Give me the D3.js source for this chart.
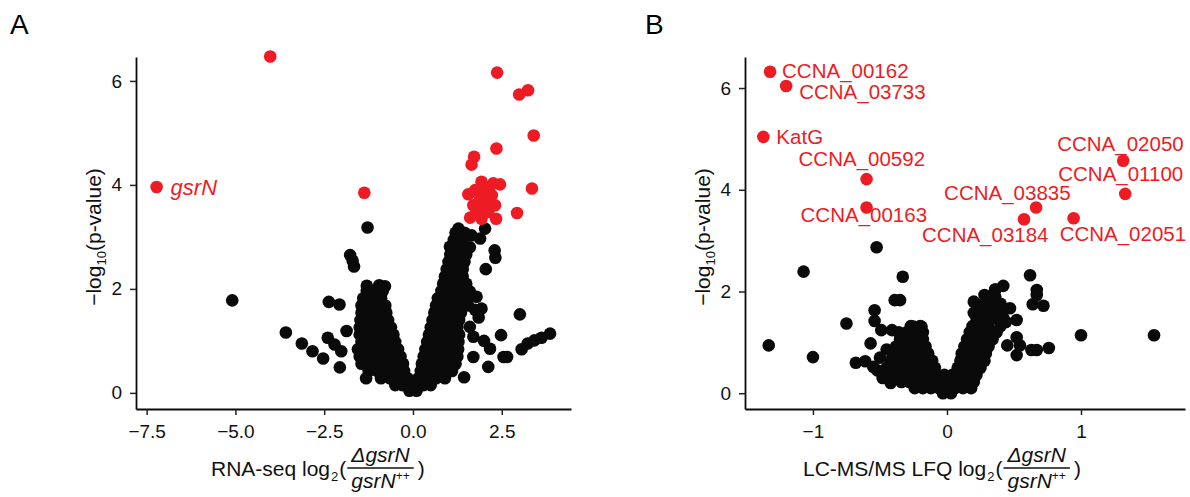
<!DOCTYPE html>
<html lang="en">
<head>
<meta charset="UTF-8">
<title>Volcano plots: RNA-seq and LC-MS/MS</title>
<script src="https://cdn.jsdelivr.net/npm/d3@7"></script>
<style>
  body { margin: 0; background: #fff; }
  svg text { font-family: "Liberation Sans", Arial, Helvetica, sans-serif; }
</style>
</head>
<body>
<svg id="chart" width="1190" height="497"></svg>
<script>
// ---- panel A: RNA-seq (x = log2 fold change, y = -log10 p) ----
const rnaTicksX = [-7.5, -5, -2.5, 0, 2.5];
const rnaTicksY = [0, 2, 4, 6];

// significant genes (red)
const rnaRed = [
    [-7.22, 3.96], [-4.02, 6.47], [-1.37, 3.85], [2.37, 6.16], [2.99, 5.74], [3.24, 5.82],
    [3.40, 4.95], [2.35, 4.70], [1.72, 4.54], [1.65, 4.39], [3.35, 3.93], [2.93, 3.46],
    [1.93, 4.06], [2.45, 4.01], [2.26, 4.03], [1.56, 3.82], [1.70, 3.61], [1.61, 3.37],
    [1.93, 3.35], [2.34, 3.35], [2.31, 3.61], [2.08, 3.83], [1.89, 3.74], [2.12, 3.48],
    [1.79, 3.48], [2.03, 3.96], [2.22, 3.80], [1.75, 3.90], [2.00, 3.55], [1.85, 3.62],
    [2.20, 3.65], [2.15, 3.95]
];
const rnaRedLabel = "gsrN";

// scattered non-significant genes
const rnaBlack = [
    [-5.09, 1.78], [-3.58, 1.16], [-3.13, 0.95], [-2.83, 0.80], [-2.53, 0.66], [-2.37, 1.75],
    [-2.07, 1.70], [-2.40, 1.06], [-2.21, 0.93], [-2.02, 0.80], [-2.06, 0.49], [-1.87, 1.19],
    [-1.32, 0.28], [-1.30, 2.06], [-0.95, 2.07], [-0.79, 2.05], [-1.28, 3.18], [-1.77, 2.65],
    [-1.70, 2.54], [-1.66, 2.43],
    [1.28, 3.16], [2.03, 3.16], [1.65, 3.03], [1.89, 2.97], [1.04, 2.81], [2.30, 2.74],
    [2.32, 2.60], [2.05, 2.38], [1.79, 1.85], [1.93, 1.62], [1.60, 1.95], [1.75, 1.60],
    [1.85, 1.45], [1.60, 1.27], [1.70, 1.08], [2.00, 1.00], [2.17, 0.85], [2.12, 0.50],
    [2.48, 1.11], [2.55, 0.69], [2.65, 0.69], [1.44, 0.30], [1.70, 0.69], [3.01, 1.51],
    [3.06, 0.84], [3.23, 0.95], [3.42, 1.01], [3.62, 1.06], [3.86, 1.14]
];
// dense V-shaped cloud, read row by row: [y, [x values]]
const rnaBlackRows = [
    [0.04, [-0.10, 0.10]],
    [0.15, [-0.50, -0.30, -0.10, 0.10, 0.30, 0.50]],
    [0.28, [-0.90, -0.65, -0.40, -0.15, 0.15, 0.40, 0.65, 0.90]],
    [0.42, [-1.25, -1.00, -0.75, -0.50, -0.25, 0.22, 0.47, 0.72, 0.97, 1.10]],
    [0.56, [-1.45, -1.20, -0.95, -0.70, -0.45, -0.28, 0.25, 0.50, 0.75, 1.00, 1.20]],
    [0.70, [-1.50, -1.25, -1.00, -0.75, -0.50, -0.35, 0.30, 0.55, 0.80, 1.05, 1.25]],
    [0.84, [-1.55, -1.30, -1.05, -0.80, -0.55, -0.42, 0.35, 0.60, 0.85, 1.10, 1.27]],
    [0.98, [-1.45, -1.20, -0.95, -0.70, -0.50, 0.40, 0.65, 0.90, 1.15, 1.28]],
    [1.12, [-1.50, -1.25, -1.00, -0.75, -0.55, 0.45, 0.70, 0.95, 1.20, 1.30]],
    [1.26, [-1.50, -1.25, -1.00, -0.80, -0.62, 0.50, 0.75, 1.00, 1.25]],
    [1.40, [-1.48, -1.22, -0.97, -0.70, 0.55, 0.80, 1.05, 1.30]],
    [1.54, [-1.45, -1.20, -0.95, -0.75, 0.60, 0.85, 1.10, 1.35]],
    [1.68, [-1.45, -1.20, -0.95, -0.78, 0.65, 0.90, 1.15, 1.40, 1.55]],
    [1.82, [-1.40, -1.15, -0.90, 0.70, 0.95, 1.20, 1.45, 1.55]],
    [1.96, [-1.30, -1.05, -0.85, 0.80, 1.05, 1.30, 1.50]],
    [2.10, [0.85, 1.10, 1.35, 1.50]],
    [2.24, [0.90, 1.15, 1.40]],
    [2.38, [0.95, 1.20, 1.40]],
    [2.52, [1.00, 1.25, 1.45]],
    [2.66, [1.05, 1.30, 1.50]],
    [2.80, [1.10, 1.35, 1.60]],
    [2.94, [1.15, 1.40]],
    [3.08, [1.20, 1.45]]
];

// ---- panel B: LC-MS/MS LFQ ----
const protTicksX = [-1, 0, 1];
const protTicksY = [0, 2, 4, 6];

const protNames = ["CCNA_00162", "CCNA_03733", "KatG", "CCNA_00592", "CCNA_00163",
    "CCNA_03835", "CCNA_03184", "CCNA_02051", "CCNA_02050", "CCNA_01100"];
const protRed = [
    [-1.32, 6.32], [-1.20, 6.04], [-1.37, 5.04], [-0.60, 4.21], [-0.60, 3.65],
    [0.665, 3.65], [0.575, 3.42], [0.945, 3.44], [1.315, 4.57], [1.33, 3.92]
];
// label placement (pixels from the point: text start, text middle)
const protLabelOffset = [
    [12, -1], [13, 6], [13, 0], [-68, -20], [-66, 7],
    [-92, -15], [-102, 16], [-14, 16], [-66, -17], [-67, -20]
];

const protBlack = [
    [-0.525, 2.87], [-1.07, 2.39], [-0.33, 2.29], [-0.39, 1.83], [-0.35, 1.83], [-0.54, 1.63],
    [-0.54, 1.42], [-0.75, 1.37], [-1.00, 0.71], [-1.33, 0.94], [-0.57, 0.98], [-0.45, 0.86],
    [-0.68, 0.60], [-0.61, 0.63], [-0.55, 0.52], [-0.49, 1.24], [-0.41, 1.24], [-0.25, 1.31],
    [-0.19, 1.31], [-0.50, 0.70], [-0.52, 0.45], [-0.48, 0.30], [-0.42, 0.20],
    [0.62, 2.32], [0.67, 2.03], [0.67, 1.93], [0.64, 1.75], [0.72, 1.72], [1.00, 1.14],
    [1.545, 1.14], [0.76, 0.89], [0.63, 0.85], [0.67, 0.85], [0.52, 0.75], [0.545, 0.94],
    [0.52, 1.10], [0.42, 2.11], [0.36, 2.04], [0.28, 1.93], [0.20, 1.80], [0.47, 1.67],
    [0.52, 1.44], [0.45, 0.94], [0.20, 1.58], [0.41, 1.63], [0.36, 1.50], [0.44, 1.40]
];
const protBlackRows = [
    [0.00, [-0.03, 0.03]],
    [0.10, [-0.24, -0.18, -0.12, -0.06, 0.00, 0.06, 0.12, 0.18]],
    [0.22, [-0.34, -0.28, -0.22, -0.16, -0.10, -0.04, 0.02, 0.08, 0.14, 0.20]],
    [0.36, [-0.44, -0.38, -0.32, -0.26, -0.20, -0.14, -0.08, -0.02, 0.04, 0.10, 0.16, 0.22]],
    [0.50, [-0.45, -0.39, -0.33, -0.27, -0.21, -0.15, -0.09, 0.08, 0.14, 0.20, 0.25]],
    [0.64, [-0.42, -0.36, -0.30, -0.24, -0.18, -0.11, 0.10, 0.16, 0.22, 0.28]],
    [0.78, [-0.40, -0.34, -0.28, -0.22, -0.14, 0.11, 0.17, 0.23, 0.29]],
    [0.92, [-0.38, -0.32, -0.26, -0.20, -0.16, 0.13, 0.19, 0.25, 0.31]],
    [1.06, [-0.35, -0.29, -0.23, -0.18, 0.15, 0.21, 0.27, 0.34]],
    [1.20, [-0.36, -0.30, -0.24, -0.18, 0.17, 0.23, 0.29, 0.37]],
    [1.32, [-0.27, -0.20, 0.19, 0.25, 0.31, 0.40]],
    [1.48, [0.22, 0.28, 0.34, 0.42]],
    [1.62, [0.24, 0.30, 0.37]],
    [1.76, [0.27, 0.33, 0.40]],
    [1.90, [0.30, 0.36]],
    [2.04, [0.36]]
];

const RED = "#ed1c24";
const INK = "#0a0a0a";
const R = 6.3;
const TITLE_FS = 21;

const svg = d3.select("#chart");

const fromRows = rows => rows.flatMap(([y, xs]) => xs.map(x => [x, y]));

// scales: domain = visible extent of each axis line
const xA = d3.scaleLinear().domain([-7.8, 4.45]).range([136, 571]);
const yA = d3.scaleLinear().domain([-0.31, 6.46]).range([409, 57]);
const xB = d3.scaleLinear().domain([-1.507, 1.776]).range([745, 1185]);
const yB = d3.scaleLinear().domain([-0.31, 6.61]).range([409, 57]);

function drawPanel(x, y, ticksX, ticksY, fmtX, black, red) {
    const g = svg.append("g");

    const gx = g.append("g")
        .attr("transform", `translate(0,${y.range()[0]})`)
        .call(d3.axisBottom(x).tickValues(ticksX).tickFormat(fmtX)
            .tickSize(6).tickSizeOuter(0).tickPadding(10));
    const gy = g.append("g")
        .attr("transform", `translate(${x.range()[0]},0)`)
        .call(d3.axisLeft(y).tickValues(ticksY).tickFormat(d3.format("d"))
            .tickSize(6).tickSizeOuter(0).tickPadding(8));

    [gx, gy].forEach(a => {
        a.select(".domain").attr("stroke", INK).attr("stroke-width", 1.8);
        a.selectAll(".tick line").attr("stroke", "#222").attr("stroke-width", 1.5);
        a.selectAll(".tick text").attr("font-size", 19).attr("fill", "#111")
            .style("font-family", "'Liberation Sans', Arial, sans-serif");
    });

    g.append("g").selectAll("circle")
        .data(black)
        .join("circle")
        .attr("cx", d => x(d[0]))
        .attr("cy", d => y(d[1]))
        .attr("r", R)
        .attr("fill", INK);

    g.append("g").selectAll("circle")
        .data(red)
        .join("circle")
        .attr("cx", d => x(d[0]))
        .attr("cy", d => y(d[1]))
        .attr("r", R)
        .attr("fill", RED);

    return g;
}

function yTitle(cx, cy) {
    const t = svg.append("text")
        .attr("transform", `translate(${cx},${cy}) rotate(-90)`)
        .attr("text-anchor", "middle")
        .attr("dy", "0.35em")
        .attr("font-size", TITLE_FS)
        .attr("fill", "#111");
    t.append("tspan").text("\u2212log");
    t.append("tspan").attr("font-size", 13).attr("dy", 5).text("10");
    t.append("tspan").attr("dy", -5).text("(p-value)");
}

function xTitle(x0, base, prefix) {
    const g = svg.append("g").attr("fill", "#111");
    const fs = TITLE_FS;
    const t = g.append("text").attr("x", x0).attr("y", base).attr("font-size", fs).text(prefix);
    let x = x0 + t.node().getComputedTextLength();
    const s = g.append("text").attr("x", x + 1).attr("y", base + 5).attr("font-size", 13).text("2");
    x += 1 + s.node().getComputedTextLength();
    const p = g.append("text").attr("x", x + 1).attr("y", base).attr("font-size", fs).text("(");
    x += 1 + p.node().getComputedTextLength() + 1;

    const num = g.append("text").attr("y", base - 14).attr("font-size", fs)
        .attr("font-style", "italic").attr("text-anchor", "middle").text("\u0394gsrN");
    const den = g.append("text").attr("y", base + 12).attr("font-size", fs)
        .attr("font-style", "italic").attr("text-anchor", "middle");
    den.append("tspan").text("gsrN");
    den.append("tspan").attr("font-size", 12).attr("font-style", "normal").attr("dy", -8).text("++");
    const w = Math.max(num.node().getComputedTextLength(), den.node().getComputedTextLength()) + 8;
    num.attr("x", x + w / 2);
    den.attr("x", x + w / 2);
    g.append("line")
        .attr("x1", x).attr("x2", x + w)
        .attr("y1", base - 8).attr("y2", base - 8)
        .attr("stroke", "#111").attr("stroke-width", 1.3);
    x += w + 4;
    g.append("text").attr("x", x).attr("y", base).attr("font-size", fs).text(")");
}

// ---- panel A ----
drawPanel(xA, yA, rnaTicksX, rnaTicksY, d3.format(".1f"),
    rnaBlack.concat(fromRows(rnaBlackRows)), rnaRed);

svg.append("text")
    .attr("x", xA(rnaRed[0][0]) + 14)
    .attr("y", yA(rnaRed[0][1]))
    .attr("dy", "0.35em")
    .attr("font-size", 22)
    .attr("font-style", "italic")
    .attr("fill", RED)
    .text(rnaRedLabel);

yTitle(94, 237);
xTitle(211, 476, "RNA-seq log");

// ---- panel B ----
drawPanel(xB, yB, protTicksX, protTicksY, d3.format("d"),
    protBlack.concat(fromRows(protBlackRows)), protRed);

svg.append("g").selectAll("text")
    .data(protRed)
    .join("text")
    .attr("x", (d, i) => xB(d[0]) + protLabelOffset[i][0])
    .attr("y", (d, i) => yB(d[1]) + protLabelOffset[i][1])
    .attr("dy", "0.35em")
    .attr("font-size", 20.5)
    .attr("fill", RED)
    .text((d, i) => protNames[i]);

yTitle(703, 237);
xTitle(803, 476, "LC-MS/MS LFQ log");

// panel letters
svg.append("text").attr("x", 10).attr("y", 34).attr("font-size", 28).attr("fill", "#000").text("A");
svg.append("text").attr("x", 645).attr("y", 34).attr("font-size", 28).attr("fill", "#000").text("B");
</script>
</body>
</html>
